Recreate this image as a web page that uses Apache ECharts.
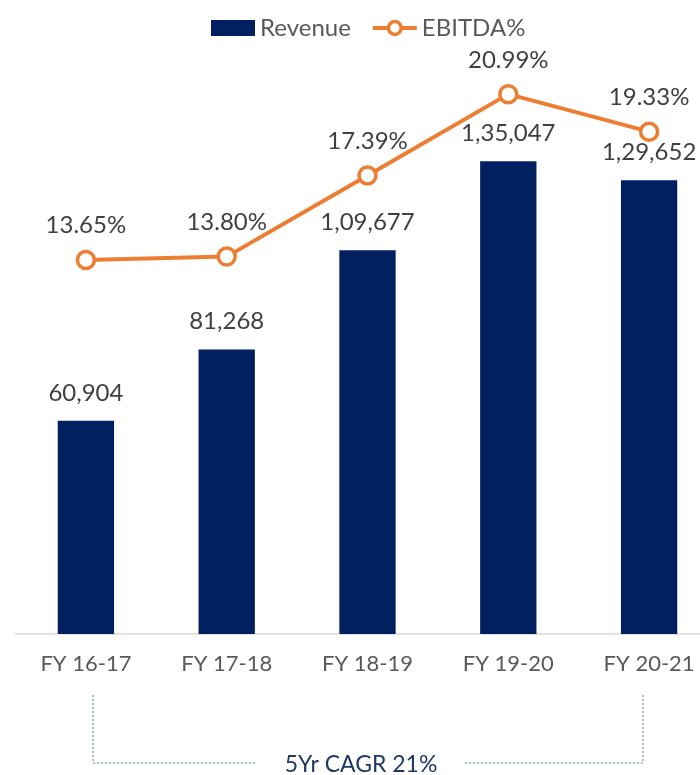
<!DOCTYPE html>
<html><head><meta charset="utf-8">
<script src="https://cdn.jsdelivr.net/npm/echarts@6/dist/echarts.min.js"></script>
<style>html,body{margin:0;padding:0;background:#fff;overflow:hidden}#c{width:722px;height:775px}</style>
</head><body><div id="c"></div>
<script>
var categories = ['FY 16-17','FY 17-18','FY 18-19','FY 19-20','FY 20-21'];
var revenue = [60904, 81268, 109677, 135047, 129652];
var ebitda = [13.65, 13.80, 17.39, 20.99, 19.33];
var cagrText = '5Yr CAGR 21%';

function indianFmt(n){
  var s = String(Math.round(n));
  if (s.length <= 3) return s;
  var last3 = s.slice(-3), rest = s.slice(0,-3);
  rest = rest.replace(/\B(?=(\d{2})+(?!\d))/g, ',');
  return rest + ',' + last3;
}
var FONT = 'Lato';
var chart = echarts.init(document.getElementById('c'));
chart.setOption({
  animation:false,
  textStyle:{fontFamily:FONT},
  legend:{
    top:11, left:206, itemGap:20, itemWidth:44, itemHeight:16,
    textStyle:{fontSize:24, color:'#595959', fontFamily:FONT},
    data:[{name:'Revenue', icon:'rect', itemStyle:{borderWidth:0}},
          {name:'EBITDA%', lineStyle:{width:4}, itemStyle:{borderWidth:3.5}}]
  },
  grid:{left:15.5, width:704, top:39, height:595, containLabel:false},
  xAxis:{
    type:'category', data:categories,
    axisLine:{lineStyle:{color:'#D9D9D9', width:1.5}},
    axisTick:{show:false},
    axisLabel:{fontSize:22, color:'#595959', margin:19, fontFamily:FONT}
  },
  yAxis:[
    {type:'value', min:0, max:170000, show:false, splitLine:{show:false}},
    {type:'value', min:-2.9, max:23.43, show:false, splitLine:{show:false}}
  ],
  series:[
    {
      name:'Revenue', type:'bar', data:revenue, barWidth:'40%',
      itemStyle:{color:'#002060'},
      label:{show:true, position:'top', distance:16, fontSize:24, color:'#404040', fontFamily:FONT,
        formatter:function(p){return indianFmt(p.value);}}
    },
    {
      name:'EBITDA%', type:'line', yAxisIndex:1, data:ebitda,
      symbol:'circle', symbolSize:17,
      lineStyle:{color:'#ED7D31', width:4},
      itemStyle:{color:'#fff', borderColor:'#ED7D31', borderWidth:3.5},
      label:{show:true, position:'top', distance:12, fontSize:24, color:'#404040', fontFamily:FONT,
        formatter:function(p){return p.value.toFixed(2)+'%';}},
      z:5
    }
  ],
  graphic:[
    {type:'polyline', shape:{points:[[93,695],[93,763],[257,763]]},
      style:{stroke:'#4472C4', lineWidth:1, lineDash:[2,2], fill:null}},
    {type:'polyline', shape:{points:[[465,763],[643,763],[643,695]]},
      style:{stroke:'#4472C4', lineWidth:1, lineDash:[2,2], fill:null}},
    {type:'text', x:361, y:765,
      style:{text:cagrText, fontSize:23, fill:'#1F3864', fontFamily:FONT, align:'center', verticalAlign:'middle'}}
  ]
});
</script></body></html>
